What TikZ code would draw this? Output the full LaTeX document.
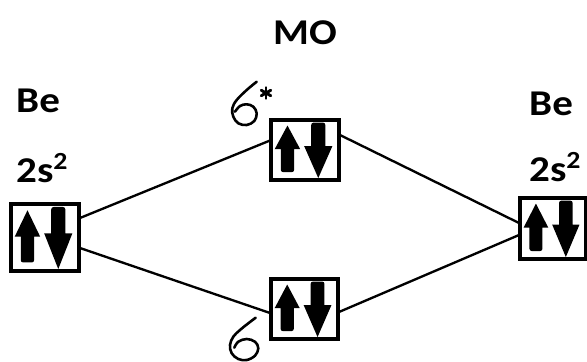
\documentclass[tikz,border=0pt]{standalone}
\usepackage{fontspec}
\usepackage{graphicx}
\setmainfont{Carlito}
\usetikzlibrary{calc}

% two opposed spins drawn inside an orbital box, in box-relative units
\newcommand\spinpair[3]{%
  \begin{scope}[shift={(#1.north west)}, x=#2cm, y=-#3cm]
    \fill (0.26,0.11) -- (0.45,0.51) -- (0.36,0.51)
      [rounded corners=2pt] -- (0.36,0.90) -- (0.16,0.90) [sharp corners]
      -- (0.16,0.51) -- (0.07,0.51) -- cycle;
    \fill [rounded corners=2pt] (0.615,0.46) -- (0.615,0.06) -- (0.825,0.06)
      [sharp corners] -- (0.825,0.46) -- (0.93,0.46) -- (0.72,1.0)
      -- (0.51,0.46) -- cycle;
  \end{scope}}

\tikzset{
  orb/.style={draw, fill=white, line width=2.5pt, inner sep=0pt},
  conn/.style={line width=2pt},
  lbl/.style={font=\fontsize{31}{36}\selectfont\bfseries, inner sep=0pt, anchor=base west},
  sig/.style={line width=2.2pt, line cap=round, line join=round}
}
\newcommand\wide[1]{\scalebox{1.13}[1]{#1}}
\newcommand\sq{\raisebox{10.5pt}{\fontsize{21}{22}\selectfont 2}}

\begin{document}
\begin{tikzpicture}[x=0.03cm, y=-0.03cm]
  \useasboundingbox (0,0) rectangle (587,361);

  % orbital boxes
  \node[orb, minimum width=2.01cm, minimum height=1.98cm] (L)  at (45,237.5) {};
  \node[orb, minimum width=2.01cm, minimum height=1.77cm] (Ss) at (305,150) {};
  \node[orb, minimum width=1.98cm, minimum height=1.77cm] (S)  at (304.5,309) {};
  \node[orb, minimum width=1.95cm, minimum height=1.80cm] (R)  at (553,228.5) {};

  % correlation lines
  \draw[conn] ($(L.east)+(0,-19.5)$) -- ($(Ss.west)+(0,-9.5)$);
  \draw[conn] ($(L.east)+(0,10.5)$)  -- ($(S.west)+(0,4)$);
  \draw[conn] ($(Ss.east)+(0,-15)$)  -- ($(R.west)+(0,-5.5)$);
  \draw[conn] ($(S.east)+(0,3)$)     -- ($(R.west)+(0,6.5)$);

  % box outlines again, above the line ends
  \foreach \b in {L,Ss,S,R}
    \draw[line width=2.5pt] (\b.north west) rectangle (\b.south east);

  \spinpair{L}{2.01}{1.98}
  \spinpair{Ss}{2.01}{1.77}
  \spinpair{S}{1.98}{1.77}
  \spinpair{R}{1.95}{1.80}

  % labels
  \node[lbl] (mo)  at (273,44)  {\wide{MO}};
  \node[lbl] (be1) at (16,112)  {\wide{Be}};
  \node[lbl] (c1)  at (16,182)  {\wide{2s\sq}};
  \node[lbl] (be2) at (529,115) {\wide{Be}};
  \node[lbl] (c2)  at (529,181) {\wide{2s\sq}};

  % handwritten sigma-star
  \draw[sig] plot[smooth, tension=0.6] coordinates {
    (256.7,81.7) (246.7,90) (236.7,100) (232.3,108.3) (233.3,116.7)
    (238.3,123.3) (246.7,125) (254.3,121) (256.7,113.3) (253.3,106.7)
    (246.7,104.3) (240,106) (235,111.7)};
  \coordinate (st) at (266,93);
  \foreach \a in {90,30,150}
    \draw[line width=2.5pt, line cap=round] ($(st)+(\a:5.5)$) -- ($(st)+(\a+180:5.5)$);

  % handwritten sigma
  \draw[sig] plot[smooth, tension=0.6] coordinates {
    (255.7,317.7) (248.3,323.3) (240,330) (233.3,336.7) (230,345)
    (231.7,353.3) (238.3,359) (246.7,360) (255,355.7) (258.3,348.3)
    (255,341.7) (246.7,339) (238.3,341.7) (234.3,347.7)};
\end{tikzpicture}
\end{document}
